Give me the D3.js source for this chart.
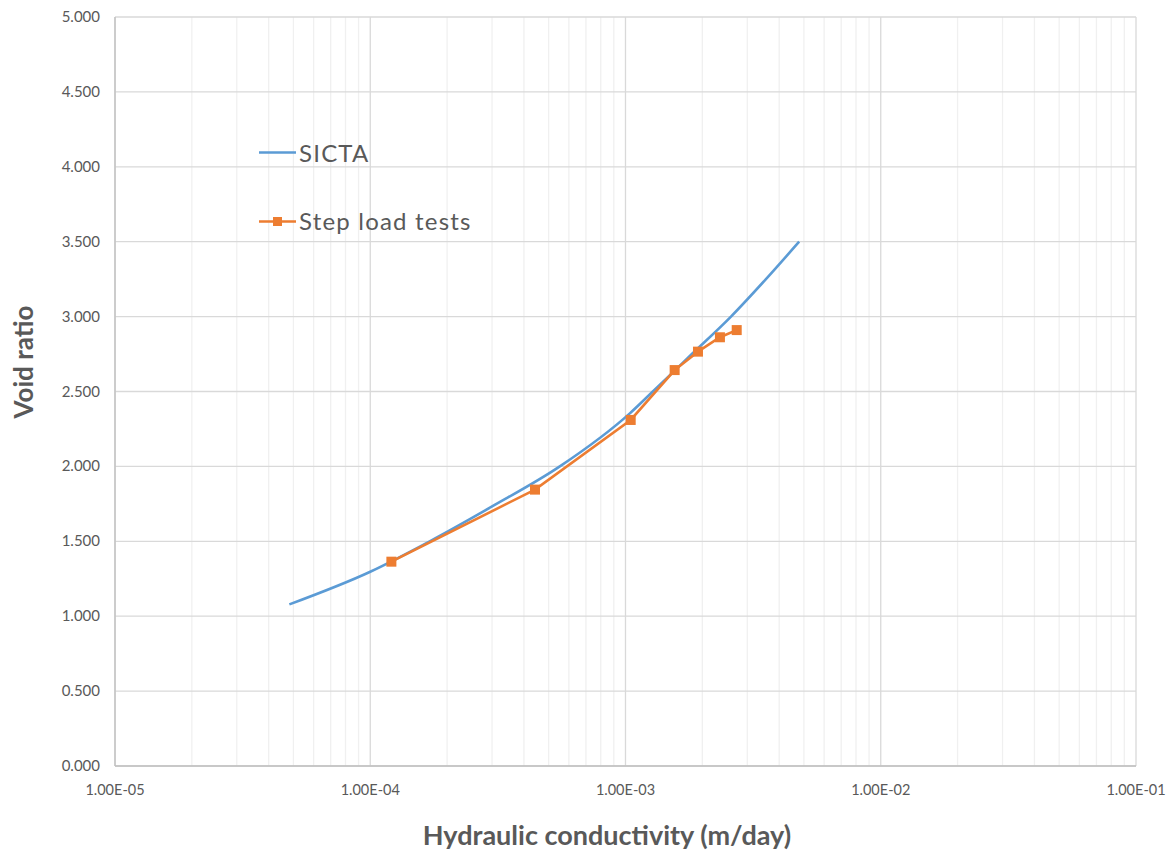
<!DOCTYPE html>
<html>
<head>
<meta charset="utf-8">
<script src="https://cdn.jsdelivr.net/npm/d3@7"></script>
<style>
  body { margin: 0; background: #fff; }
  text { font-family: Lato, "Open Sans", sans-serif; }
</style>
</head>
<body>
<div id="chart"></div>
<script>
// SICTA curve vs step load tests - void ratio against hydraulic conductivity

const sictaK = [4.82e-5, 1.0e-4, 1.71e-4, 2.99e-4, 5.53e-4, 1.04e-3, 1.28e-3, 1.82e-3, 2.59e-3, 3.55e-3, 4.79e-3];
const sictaE = [1.079, 1.297, 1.5, 1.731, 2.0, 2.354, 2.5, 2.75, 3.0, 3.25, 3.5];

const stepK = [1.21e-4, 4.42e-4, 1.048e-3, 1.558e-3, 1.923e-3, 2.344e-3, 2.727e-3];
const stepE = [1.364, 1.845, 2.310, 2.643, 2.766, 2.862, 2.910];

const xTicks = [1e-5, 1e-4, 1e-3, 1e-2, 1e-1];
const xTickLabels = ["1.00E-05", "1.00E-04", "1.00E-03", "1.00E-02", "1.00E-01"];
const yTicks = [0, 0.5, 1, 1.5, 2, 2.5, 3, 3.5, 4, 4.5, 5];

const W = 1175, H = 857;
const m = { left: 115, top: 17, right: 1136, bottom: 766 };

const svg = d3.select("#chart").append("svg")
  .attr("width", W).attr("height", H);

const x = d3.scaleLog().domain([1e-5, 1e-1]).range([m.left, m.right]);
const y = d3.scaleLinear().domain([0, 5]).range([m.bottom, m.top]);

// minor grid (2..9 each decade)
const minor = [];
for (let d = -5; d < -1; d++) {
  for (let k = 2; k <= 9; k++) minor.push(k * Math.pow(10, d));
}
svg.append("g").selectAll("line").data(minor).enter().append("line")
  .attr("x1", d => x(d)).attr("x2", d => x(d))
  .attr("y1", m.top).attr("y2", m.bottom)
  .attr("stroke", "#f0f0f0").attr("stroke-width", 1.3);

// major grid
svg.append("g").selectAll("line").data(yTicks).enter().append("line")
  .attr("x1", m.left).attr("x2", m.right)
  .attr("y1", d => y(d)).attr("y2", d => y(d))
  .attr("stroke", "#d9d9d9").attr("stroke-width", 1.3);
svg.append("g").selectAll("line").data(xTicks).enter().append("line")
  .attr("x1", d => x(d)).attr("x2", d => x(d))
  .attr("y1", m.top).attr("y2", m.bottom)
  .attr("stroke", "#d9d9d9").attr("stroke-width", 1.3);

// axis lines
svg.append("line").attr("x1", m.left).attr("x2", m.left)
  .attr("y1", m.top).attr("y2", m.bottom)
  .attr("stroke", "#bfbfbf").attr("stroke-width", 1.3);
svg.append("line").attr("x1", m.left).attr("x2", m.right)
  .attr("y1", m.bottom).attr("y2", m.bottom)
  .attr("stroke", "#bfbfbf").attr("stroke-width", 1.3);

// tick labels
svg.append("g").selectAll("text").data(yTicks).enter().append("text")
  .attr("x", 100).attr("y", d => y(d) + 5)
  .attr("text-anchor", "end")
  .style("font-size", "15px").attr("fill", "#595959")
  .text(d => d3.format(".3f")(d));

svg.append("g").selectAll("text").data(xTicks).enter().append("text")
  .attr("x", d => x(d)).attr("y", 795)
  .attr("text-anchor", "middle")
  .style("font-size", "14.5px").attr("fill", "#595959")
  .text((d, i) => xTickLabels[i]);

// axis titles
svg.append("text")
  .attr("transform", `translate(33, 362) rotate(-90)`)
  .attr("text-anchor", "middle")
  .style("font-size", "26px").style("font-weight", "bold")
  .attr("fill", "#595959")
  .text("Void ratio");

svg.append("text")
  .attr("x", 607).attr("y", 845)
  .attr("text-anchor", "middle")
  .style("font-size", "27px").style("font-weight", "bold")
  .attr("fill", "#595959")
  .text("Hydraulic conductivity (m/day)");

// lines
const sicta = sictaK.map((k, i) => [k, sictaE[i]]);
const step = stepK.map((k, i) => [k, stepE[i]]);

svg.append("path").datum(sicta)
  .attr("d", d3.line().x(d => x(d[0])).y(d => y(d[1])).curve(d3.curveMonotoneX))
  .attr("fill", "none").attr("stroke", "#5b9bd5").attr("stroke-width", 2.6);

svg.append("path").datum(step)
  .attr("d", d3.line().x(d => x(d[0])).y(d => y(d[1])))
  .attr("fill", "none").attr("stroke", "#ed7d31").attr("stroke-width", 2.6);

svg.append("g").selectAll("rect").data(step).enter().append("rect")
  .attr("x", d => x(d[0]) - 5).attr("y", d => y(d[1]) - 5)
  .attr("width", 10).attr("height", 10)
  .attr("fill", "#ed7d31");

// legend
const legend = svg.append("g");
legend.append("line").attr("x1", 259).attr("x2", 296)
  .attr("y1", 152.5).attr("y2", 152.5)
  .attr("stroke", "#5b9bd5").attr("stroke-width", 2.6);
legend.append("text").attr("x", 299).attr("y", 161.5)
  .style("font-size", "24px").style("letter-spacing", "1.2px")
  .attr("fill", "#595959").text("SICTA");

legend.append("line").attr("x1", 259).attr("x2", 296)
  .attr("y1", 221.5).attr("y2", 221.5)
  .attr("stroke", "#ed7d31").attr("stroke-width", 2.6);
legend.append("rect").attr("x", 273).attr("y", 217)
  .attr("width", 9).attr("height", 9).attr("fill", "#ed7d31");
legend.append("text").attr("x", 299).attr("y", 230)
  .style("font-size", "24px").style("letter-spacing", "1.2px")
  .attr("fill", "#595959").text("Step load tests");
</script>
</body>
</html>
